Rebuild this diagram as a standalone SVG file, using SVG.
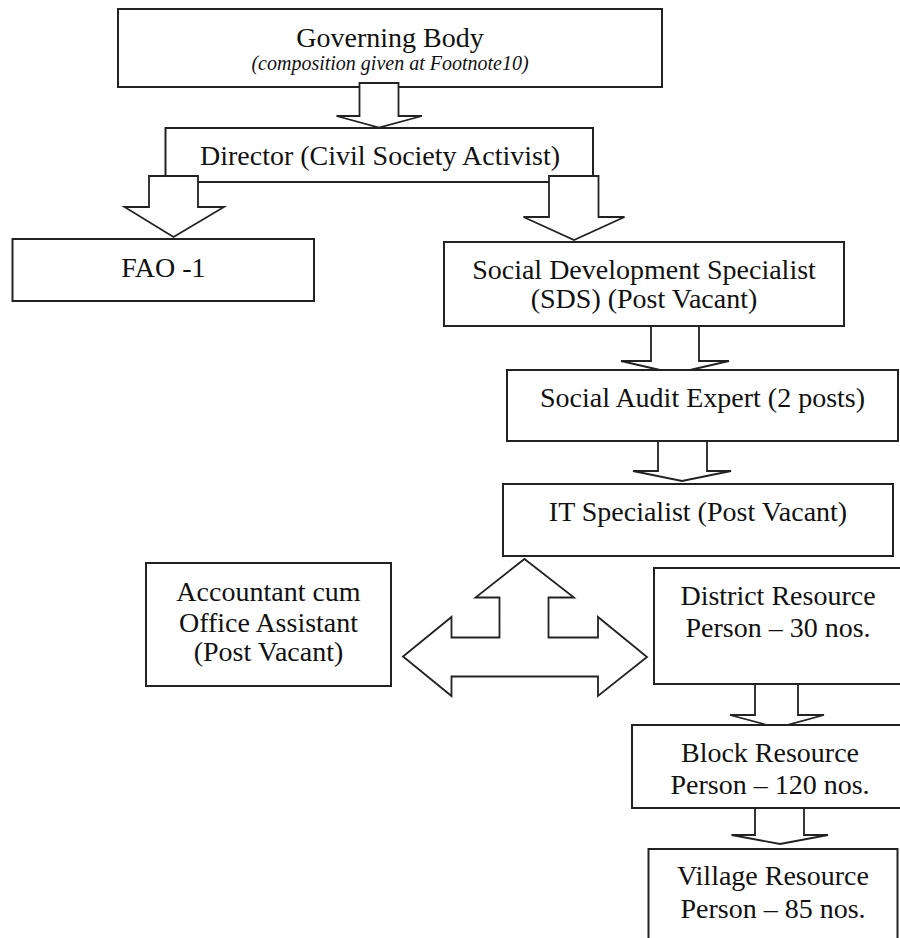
<svg xmlns="http://www.w3.org/2000/svg" width="900" height="938" viewBox="0 0 900 938">
<style>
  .box { fill: #fff; stroke: #222; stroke-width: 2; }
  .arr { fill: #fff; stroke: #222; stroke-width: 1.8; stroke-linejoin: miter; }
  text { font-family: "Liberation Serif", "Times New Roman", serif; font-size: 28px; fill: #111; text-anchor: middle; }
  .it { font-style: italic; font-size: 20px; }
</style>
<rect width="900" height="938" fill="#fff"/>
<g id="governing-body">
  <rect class="box" x="118" y="9" width="544" height="78"/>
  <text x="390" y="47">Governing Body</text>
  <text class="it" x="390" y="70">(composition given at Footnote10)</text>
</g>
<g id="director">
  <rect class="box" x="165.5" y="128" width="427.5" height="54"/>
  <text x="380" y="165">Director (Civil Society Activist)</text>
</g>
<g id="fao">
  <rect class="box" x="12.5" y="239" width="301.5" height="62"/>
  <text x="163.5" y="277">FAO -1</text>
</g>
<g id="sds">
  <rect class="box" x="444" y="242" width="400" height="84"/>
  <text x="644" y="279">Social Development Specialist</text>
  <text x="644" y="308">(SDS) (Post Vacant)</text>
</g>
<g id="social-audit-expert">
  <rect class="box" x="507" y="370" width="391" height="71"/>
  <text x="702.5" y="407">Social Audit Expert (2 posts)</text>
</g>
<g id="it-specialist">
  <rect class="box" x="503" y="484" width="390" height="72"/>
  <text x="698" y="521">IT Specialist (Post Vacant)</text>
</g>
<g id="accountant">
  <rect class="box" x="146" y="563" width="245" height="123"/>
  <text x="268.5" y="601">Accountant cum</text>
  <text x="268.5" y="632">Office Assistant</text>
  <text x="268.5" y="661">(Post Vacant)</text>
</g>
<g id="district">
  <rect class="box" x="654" y="568" width="248" height="116"/>
  <text x="778" y="605">District Resource</text>
  <text x="778" y="637">Person – 30 nos.</text>
</g>
<g id="block">
  <rect class="box" x="632" y="725" width="276" height="83"/>
  <text x="770" y="762">Block Resource</text>
  <text x="770" y="794">Person – 120 nos.</text>
</g>
<g id="village">
  <rect class="box" x="648.5" y="849" width="249" height="110"/>
  <text x="773" y="885">Village Resource</text>
  <text x="773" y="918">Person – 85 nos.</text>
</g>
<g id="connectors">
  <polygon class="arr" points="359.5,83 398.5,83 398.5,116 422,116 379,127.5 336.5,116 359.5,116"/>
  <polygon class="arr" points="149,176 198,176 198,207 224,207 173.5,237 124.5,207 149,207"/>
  <polygon class="arr" points="549,176 598.5,176 598.5,217 624.5,217 574,240 523.5,217 549,217"/>
  <polygon class="arr" points="651,326 699,326 699,361 729,361 690,370 660,370 621,361 651,361"/>
  <polygon class="arr" points="658,441 707,441 707,471 731,471 682,481 633,471 658,471"/>
  <polygon class="arr" points="755,684 798,684 798,715 824,715 787,725 767,725 730,715 755,715"/>
  <polygon class="arr" points="755,808 804,808 804,835 828,835 780,844 731.5,835 755,835"/>
  <polygon class="arr" points="524.5,559 574,597.5 548.5,597.5 548.5,637.5 598,637.5 598,617 647,657 598,696 598,676.5 451.5,676.5 451.5,696 403,656.5 451.5,617 451.5,637.5 499.5,637.5 499.5,597.5 475.5,597.5"/>
</g>
</svg>
